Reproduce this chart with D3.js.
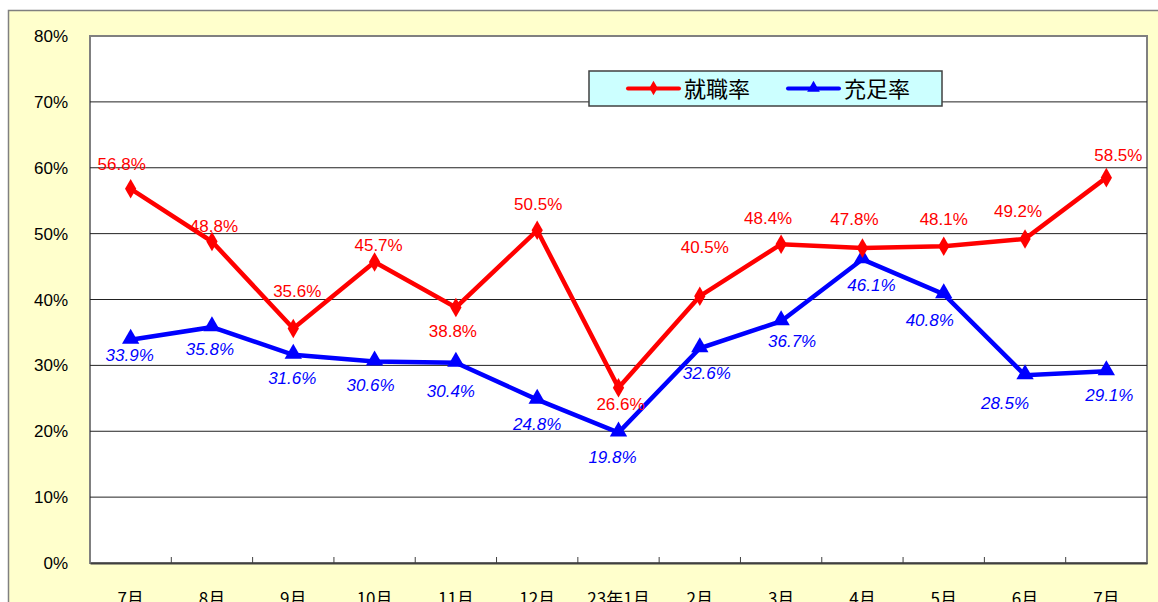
<!DOCTYPE html>
<html>
<head>
<meta charset="utf-8">
<script src="https://d3js.org/d3.v7.min.js"></script>
<style>
  body { margin: 0; background: #fff; }
  svg { display: block; }
  text { font-family: "Liberation Sans", Arial, "Noto Sans CJK JP", sans-serif; }
  .jp { font-family: "Noto Sans CJK JP", sans-serif; }
</style>
</head>
<body>
<svg width="1158" height="602"></svg>
<script>
// data
var months = ["7月", "8月", "9月", "10月", "11月", "12月", "23年1月", "2月", "3月", "4月", "5月", "6月", "7月"];
var shushoku = [56.8, 48.8, 35.6, 45.7, 38.8, 50.5, 26.6, 40.5, 48.4, 47.8, 48.1, 49.2, 58.5];
var jusoku = [33.9, 35.8, 31.6, 30.6, 30.4, 24.8, 19.8, 32.6, 36.7, 46.1, 40.8, 28.5, 29.1];
var yTicks = [0, 10, 20, 30, 40, 50, 60, 70, 80];

// label nudges (dx, dy from the point)
var redNudge = [[-9,-19],[2,-10],[4,-31],[4,-11],[-3,30],[1,-20],[2,22],[5,-43],[-13,-20],[-8,-23],[0,-21],[-7,-22],[12,-17]];
var blueNudge = [[-1,21],[-2,28],[-1,29],[-4,30],[-5,34],[0,30],[-6,30],[7,31],[11,26],[9,32],[-14,32],[-20,34],[3,30]];

var svg = d3.select("svg");
var w = 1158, h = 602;
var m = { left: 90, top: 36, right: 1147, bottom: 563 };

// outer chart area
svg.append("rect").attr("x", 8.5).attr("y", 10.5).attr("width", w).attr("height", h)
  .attr("fill", "#FFFFCC").attr("stroke", "#808080").attr("stroke-width", 1.5);

var x = d3.scaleBand().domain(d3.range(months.length)).range([m.left, m.right]);
var y = d3.scaleLinear().domain([0, 80]).range([m.bottom, m.top]);

// plot area
svg.append("rect").attr("x", m.left).attr("y", m.top)
  .attr("width", m.right - m.left).attr("height", m.bottom - m.top)
  .attr("fill", "#fff").attr("stroke", "#808080").attr("stroke-width", 2);

// grid
svg.append("g").selectAll("line").data(yTicks.slice(1, -1)).enter().append("line")
  .attr("x1", m.left).attr("x2", m.right)
  .attr("y1", d => y(d)).attr("y2", d => y(d))
  .attr("stroke", "#222").attr("stroke-width", 1);

// y axis labels
svg.append("g").selectAll("text").data(yTicks).enter().append("text")
  .attr("x", 68).attr("y", d => y(d) + 6)
  .attr("text-anchor", "end").style("font-size", "17px").attr("fill", "#000")
  .text(d => d + "%");

// x axis
var xAxis = d3.axisBottom(x).tickSize(0).tickFormat(i => months[i]);
var gx = svg.append("g").attr("transform", "translate(0," + m.bottom + ")").call(xAxis);
gx.select(".domain").attr("stroke", "#404040").attr("stroke-width", 2);
gx.selectAll("text").attr("class", "jp").attr("dy", 0).attr("y", 42)
  .style("font-size", "17px").attr("fill", "#000");
// category separators
svg.append("g").selectAll("line").data(d3.range(1, months.length)).enter().append("line")
  .attr("x1", i => x(i)).attr("x2", i => x(i))
  .attr("y1", m.bottom).attr("y2", m.bottom - 6)
  .attr("stroke", "#404040").attr("stroke-width", 1);

var cx = i => x(i) + x.bandwidth() / 2;
var line = d3.line().x((d, i) => cx(i)).y(d => y(d));

// series
svg.append("path").datum(jusoku).attr("d", line)
  .attr("fill", "none").attr("stroke", "#0000FF").attr("stroke-width", 4.5).attr("stroke-linejoin", "miter");
svg.append("path").datum(shushoku).attr("d", line)
  .attr("fill", "none").attr("stroke", "#FF0000").attr("stroke-width", 4.5).attr("stroke-linejoin", "miter");

svg.append("g").selectAll("path").data(jusoku).enter().append("path")
  .attr("d", d3.symbol(d3.symbolTriangle, 130))
  .attr("transform", (d, i) => "translate(" + cx(i) + "," + (y(d) - 1) + ")")
  .attr("fill", "#0000FF");
svg.append("g").selectAll("path").data(shushoku).enter().append("path")
  .attr("d", d3.symbol(d3.symbolDiamond, 110))
  .attr("transform", (d, i) => "translate(" + cx(i) + "," + y(d) + ")")
  .attr("fill", "#FF0000");

// data labels
svg.append("g").selectAll("text").data(shushoku).enter().append("text")
  .attr("x", (d, i) => cx(i) + redNudge[i][0])
  .attr("y", (d, i) => y(d) + redNudge[i][1])
  .attr("text-anchor", "middle").style("font-size", "17px").attr("fill", "#FF0000")
  .text(d => d.toFixed(1) + "%");
svg.append("g").selectAll("text").data(jusoku).enter().append("text")
  .attr("x", (d, i) => cx(i) + blueNudge[i][0])
  .attr("y", (d, i) => y(d) + blueNudge[i][1])
  .attr("text-anchor", "middle").style("font-size", "17px").style("font-style", "italic")
  .attr("fill", "#0000FF")
  .text(d => d.toFixed(1) + "%");

// legend
var lg = svg.append("g").attr("transform", "translate(589,71)");
lg.append("rect").attr("width", 353).attr("height", 35)
  .attr("fill", "#CCFFFF").attr("stroke", "#404040").attr("stroke-width", 1.5);
var items = [{ name: "就職率", c: "#FF0000", sym: d3.symbolDiamond, s: 60 },
             { name: "充足率", c: "#0000FF", sym: d3.symbolTriangle, s: 70 }];
items.forEach(function (it, k) {
  var ox = 39 + k * 160;
  lg.append("line").attr("x1", ox).attr("x2", ox + 51).attr("y1", 17.5).attr("y2", 17.5)
    .attr("stroke", it.c).attr("stroke-width", 4).attr("stroke-linecap", "round");
  lg.append("path").attr("d", d3.symbol(it.sym, it.s))
    .attr("transform", "translate(" + (ox + 25.5) + ",17)").attr("fill", it.c);
  lg.append("text").attr("class", "jp").attr("x", ox + 56).attr("y", 25.5)
    .style("font-size", "22px").attr("fill", "#000").text(it.name);
});
</script>
</body>
</html>
